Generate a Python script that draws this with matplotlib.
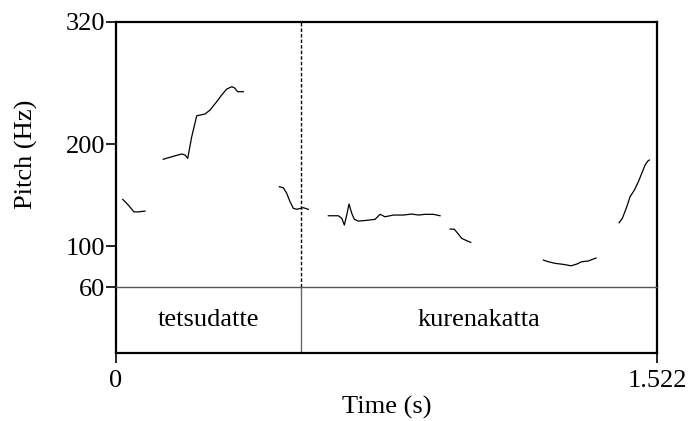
import matplotlib
matplotlib.use("Agg")
import matplotlib.pyplot as plt

plt.rcParams['font.family'] = ['Liberation Serif', 'DejaVu Serif']

t_max = 1.522
f_min, f_max = 60, 320
boundary = 0.5205
words = ["tetsudatte", "kurenakatta"]
y_ticks = [60, 100, 200, 320]

seg1_t = [0.0189, 0.0346, 0.0506, 0.0627, 0.0816]
seg1_f = [146.0, 140.4, 133.7, 133.7, 134.5]
seg2_t = [0.1331, 0.1567, 0.1849, 0.1941, 0.2017, 0.2130, 0.2271, 0.2504, 0.2645,
          0.2833, 0.2974, 0.3115, 0.3255, 0.3329, 0.3424, 0.3582]
seg2_f = [185.3, 187.8, 190.5, 189.5, 186.2, 207.4, 228.0, 229.7, 233.6,
          241.8, 248.4, 254.2, 256.5, 255.5, 251.6, 251.6]
seg3_t = [0.4595, 0.4707, 0.4803, 0.4896, 0.4989, 0.5084, 0.5197, 0.5270, 0.5411]
seg3_f = [158.4, 157.4, 151.9, 143.7, 137.2, 136.2, 137.2, 137.8, 136.2]
seg4_t = [0.5974, 0.6255, 0.6351, 0.6424, 0.6491, 0.6556, 0.6632, 0.6705, 0.6818,
          0.7054, 0.7288, 0.7428, 0.7569, 0.7803, 0.8084, 0.8320, 0.8506, 0.8694,
          0.8928, 0.9117]
seg4_f = [129.9, 129.9, 127.4, 120.8, 130.6, 141.4, 132.3, 126.4, 124.7,
          125.4, 126.4, 131.3, 128.9, 130.6, 130.6, 131.6, 130.6, 131.3,
          131.3, 129.9]
seg5_t = [0.9398, 0.9519, 0.9614, 0.9727, 0.9868, 0.9980]
seg5_f = [116.9, 116.6, 112.6, 107.7, 105.4, 103.8]
seg6_t = [1.2023, 1.2164, 1.2352, 1.2586, 1.2802, 1.2963, 1.3103, 1.3289, 1.3402, 1.3506]
seg6_f = [86.4, 84.8, 83.2, 82.2, 80.8, 82.5, 84.8, 85.5, 87.1, 88.4]
seg7_t = [1.4153, 1.4246, 1.4370, 1.4463, 1.4584, 1.4696, 1.4792, 1.4885, 1.4961, 1.5006]
seg7_f = [123.0, 127.4, 138.7, 148.6, 155.1, 163.3, 171.6, 179.7, 183.6, 184.6]

segments = [(seg1_t, seg1_f), (seg2_t, seg2_f), (seg3_t, seg3_f), (seg4_t, seg4_f),
            (seg5_t, seg5_f), (seg6_t, seg6_f), (seg7_t, seg7_f)]

fs = 19
fig = plt.figure(figsize=(6.9, 4.21), dpi=100)
L, W = 116/690, 541/690
tier = fig.add_axes([L, 1-353/421, W, 66/421])
ax = fig.add_axes([L, 1-287/421, W, 265/421])
ax.patch.set_alpha(0)

for st, sf in segments:
    ax.plot(st, sf, color='black', lw=0.9)
ax.axvline(boundary, color='black', lw=1.0, linestyle=(0, (2.5, 1.5)))
ax.set_xlim(0, t_max)
ax.set_ylim(f_min, f_max)
ax.set_yticks(y_ticks)
ax.set_yticklabels([str(v) for v in y_ticks])
ax.set_xticks([])
ax.tick_params(axis='y', direction='out', length=7, width=1.2, labelsize=fs, pad=1)
for s in ['left', 'top', 'right']:
    ax.spines[s].set_linewidth(1.6)
ax.spines['bottom'].set_linewidth(1.0)
ax.spines['bottom'].set_color('#555555')
ax.set_ylabel("Pitch (Hz)", fontsize=fs, labelpad=20)

tier.set_xlim(0, t_max)
tier.set_ylim(0, 1)
tier.axvline(boundary, color='#666666', lw=1.0)
bounds = [0, boundary, t_max]
for i, w in enumerate(words):
    tier.text((bounds[i] + bounds[i+1]) / 2, 0.5, w, ha='center', va='center', fontsize=fs)
tier.set_yticks([])
tier.set_xticks([0, t_max])
tier.set_xticklabels(["0", "1.522"])
tier.tick_params(axis='x', direction='out', length=7, width=1.2, labelsize=fs, pad=5)
for s in ['left', 'bottom', 'right']:
    tier.spines[s].set_linewidth(1.6)
tier.spines['top'].set_visible(False)
tier.set_xlabel("Time (s)", fontsize=fs, labelpad=3)

fig.savefig("out.png", dpi=100)
